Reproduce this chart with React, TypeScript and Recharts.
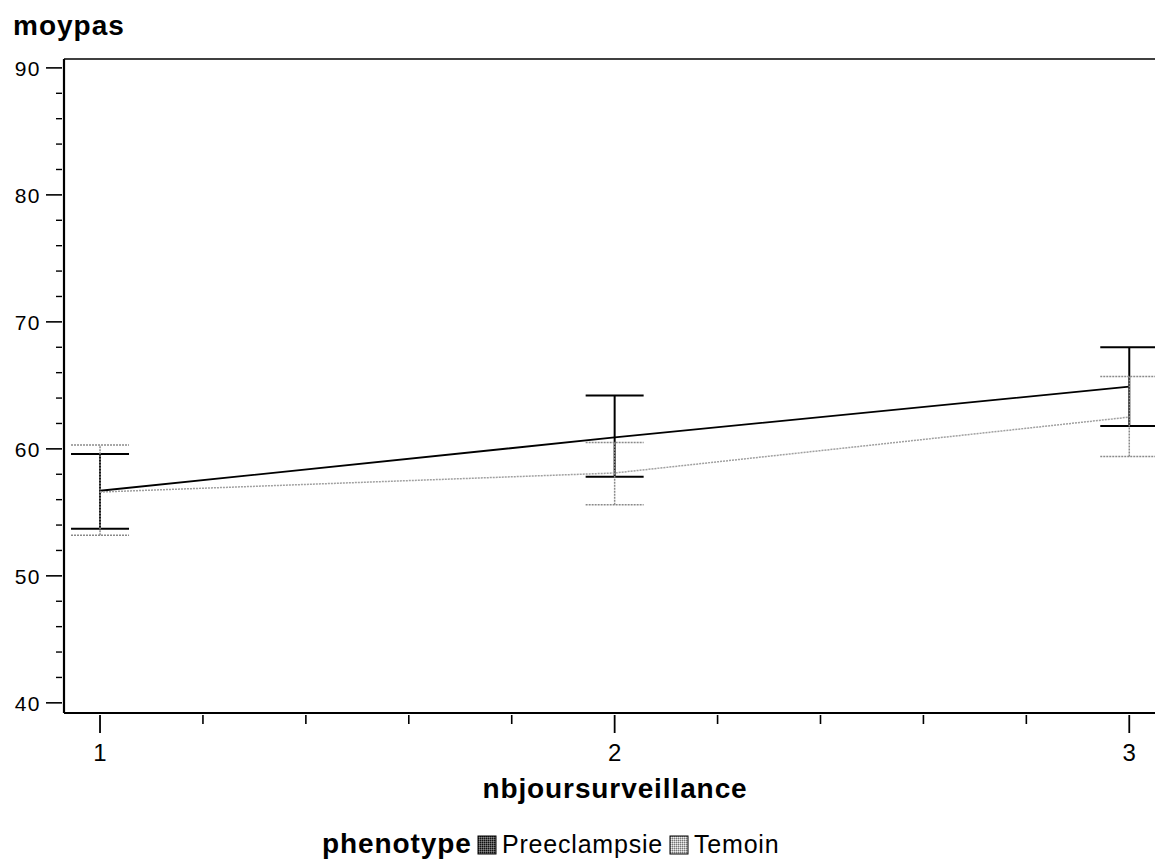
import React from 'react';
import { LineChart, Line, XAxis, YAxis, ErrorBar, ReferenceLine } from 'recharts';

// ---- data ----
const days = [1, 2, 3];
const preMean = [56.7, 60.9, 64.9];
const preLow = [53.7, 57.8, 61.8];
const preHigh = [59.6, 64.2, 68.0];
const temMean = [56.6, 58.1, 62.5];
const temLow = [53.2, 55.6, 59.4];
const temHigh = [60.3, 60.5, 65.7];

const yTicks = [40, 42, 44, 46, 48, 50, 52, 54, 56, 58, 60, 62, 64, 66, 68, 70, 72, 74, 76, 78, 80, 82, 84, 86, 88, 90];
const xTicks = [1, 1.2, 1.4, 1.6, 1.8, 2, 2.2, 2.4, 2.6, 2.8, 3];
const yMajor = [40, 50, 60, 70, 80, 90];
const xMajor = [1, 2, 3];
const yDomain = [39.2, 90.7];
const xDomain = [0.93, 3.05];

const seriesNames = ['Preeclampsie', 'Temoin'];
const groupTitle = 'phenotype';
const yTitle = 'moypas';
const xTitle = 'nbjoursurveillance';

const data = days.map((d, i) => ({
  day: d,
  pre: preMean[i],
  preErr: [preMean[i] - preLow[i], preHigh[i] - preMean[i]],
  tem: temMean[i],
  temErr: [temMean[i] - temLow[i], temHigh[i] - temMean[i]],
}));

const FONT = '"Liberation Sans", Arial, Helvetica, sans-serif';

const isMajor = (v: number, list: number[]) => list.some((m) => Math.abs(m - v) < 1e-6);

const YTick = (props: any) => {
  const { x, y, payload } = props;
  const major = isMajor(payload.value, yMajor);
  return (
    <g>
      <line x1={x - (major ? 16 : 6)} x2={x} y1={y} y2={y} stroke="#000" strokeWidth={major ? 1.6 : 1.4} />
      {major && (
        <text x={x - 21} y={y + 8} textAnchor="end" fontSize={21} letterSpacing={1.5} fontFamily={FONT} fill="#000">
          {payload.value}
        </text>
      )}
    </g>
  );
};

const XTick = (props: any) => {
  const { x, y, payload } = props;
  const major = isMajor(payload.value, xMajor);
  return (
    <g>
      <line x1={x} x2={x} y1={y} y2={y + (major ? 18 : 9)} stroke="#000" strokeWidth={major ? 1.8 : 1.6} />
      {major && (
        <text x={x} y={y + 46} textAnchor="middle" fontSize={24} fontFamily={FONT} fill="#000">
          {payload.value}
        </text>
      )}
    </g>
  );
};

export default function App() {
  return (
    <div style={{ position: 'absolute', left: 0, top: 0, width: 1155, height: 864, background: '#fff', overflow: 'hidden' }}>
      <LineChart
        width={1155}
        height={864}
        data={data}
        margin={{ top: 59, right: 0, left: 0, bottom: 111 }}
      >
        <XAxis
          type="number"
          dataKey="day"
          domain={xDomain}
          ticks={xTicks}
          interval={0}
          allowDataOverflow
          tickSize={0}
          tickLine={false}
          tick={<XTick />}
          height={40}
          axisLine={{ stroke: '#000', strokeWidth: 2.2 }}
        />
        <YAxis
          type="number"
          domain={yDomain}
          ticks={yTicks}
          interval={0}
          allowDataOverflow
          tickSize={0}
          tickLine={false}
          tick={<YTick />}
          width={64}
          axisLine={{ stroke: '#000', strokeWidth: 2.2 }}
        />
        <ReferenceLine y={yDomain[1]} stroke="#000" strokeWidth={1.5} ifOverflow="visible" />
        <Line
          type="linear"
          dataKey="pre"
          name={seriesNames[0]}
          stroke="#000"
          strokeWidth={1.8}
          dot={false}
          isAnimationActive={false}
        >
          <ErrorBar dataKey="preErr" direction="y" width={29} stroke="#000" strokeWidth={2} isAnimationActive={false} />
        </Line>
        <Line
          type="linear"
          dataKey="tem"
          name={seriesNames[1]}
          stroke="#a0a0a0"
          strokeWidth={1.5}
          strokeDasharray="2 1"
          dot={false}
          isAnimationActive={false}
        >
          <ErrorBar dataKey="temErr" direction="y" width={29} stroke="#8a8a8a" strokeWidth={1.5} strokeDasharray="2 1" isAnimationActive={false} />
        </Line>
      </LineChart>
      <svg width={1155} height={864} style={{ position: 'absolute', left: 0, top: 0, pointerEvents: 'none' }}>
        <defs>
          <pattern id="patDark" width={2} height={2} patternUnits="userSpaceOnUse">
            <rect width={2} height={2} fill="#555" />
            <rect width={1} height={1} fill="#111" />
            <rect x={1} y={1} width={1} height={1} fill="#888" />
          </pattern>
          <pattern id="patLight" width={2} height={2} patternUnits="userSpaceOnUse">
            <rect width={2} height={2} fill="#bbb" />
            <rect width={1} height={1} fill="#777" />
            <rect x={1} y={1} width={1} height={1} fill="#eee" />
          </pattern>
        </defs>
        <text x={13} y={35} fontSize={28} fontWeight="bold" letterSpacing={1} fontFamily={FONT} fill="#000">
          {yTitle}
        </text>
        <text x={615} y={798} textAnchor="middle" fontSize={28} fontWeight="bold" letterSpacing={0.9} fontFamily={FONT} fill="#000">
          {xTitle}
        </text>
        <text x={322} y={853} fontSize={28} fontWeight="bold" letterSpacing={0.9} fontFamily={FONT} fill="#000">
          {groupTitle}
        </text>
        <rect x={478} y={836} width={18} height={18} fill="url(#patDark)" stroke="#000" strokeWidth={1} />
        <text x={502} y={853} fontSize={25} letterSpacing={0.8} fontFamily={FONT} fill="#000">
          {seriesNames[0]}
        </text>
        <rect x={670} y={836} width={18} height={18} fill="url(#patLight)" stroke="#000" strokeWidth={1} />
        <text x={694} y={853} fontSize={25} letterSpacing={0.8} fontFamily={FONT} fill="#000">
          {seriesNames[1]}
        </text>
      </svg>
    </div>
  );
}
